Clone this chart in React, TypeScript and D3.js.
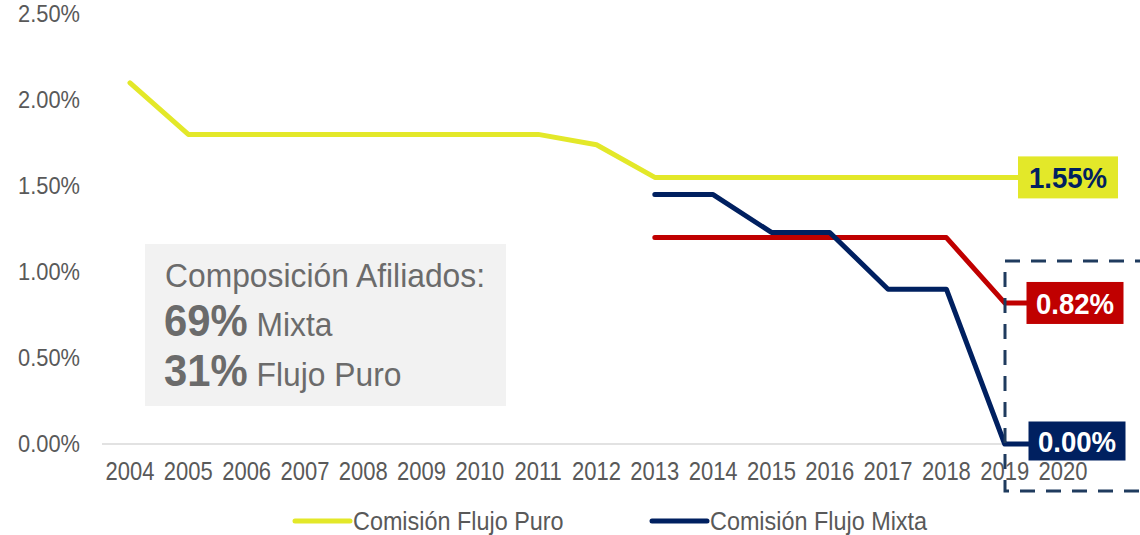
import * as d3 from 'd3';
import React from 'react';

const years = ['2004', '2005', '2006', '2007', '2008', '2009', '2010', '2011', '2012', '2013', '2014', '2015', '2016', '2017', '2018', '2019', '2020'];

// comisiones en % (null = sin dato)
const flujoPuro = [2.1, 1.8, 1.8, 1.8, 1.8, 1.8, 1.8, 1.8, 1.74, 1.55, 1.55, 1.55, 1.55, 1.55, 1.55, 1.55, 1.55];
const flujoMixta = [null, null, null, null, null, null, null, null, null, 1.45, 1.45, 1.23, 1.23, 0.9, 0.9, 0.0, 0.0];
const saldo = [null, null, null, null, null, null, null, null, null, 1.2, 1.2, 1.2, 1.2, 1.2, 1.2, 0.82, 0.82];

const yTicks = [0, 0.5, 1.0, 1.5, 2.0, 2.5];

const W = 1140;
const H = 535;
const FONT = "'Liberation Sans', Arial, sans-serif";
const GREY = '#595959';

const x = d3.scalePoint<string>().domain(years).range([130, 1063]);
const y = d3.scaleLinear().domain([0, 2.5]).range([444, 14]);

type Pt = { year: string; v: number | null };
const toPts = (vals: (number | null)[]): Pt[] => years.map((year, i) => ({ year, v: vals[i] }));

const line = d3
  .line<Pt>()
  .defined((d) => d.v !== null)
  .x((d) => x(d.year) as number)
  .y((d) => y(d.v as number));

const series = [
  { name: 'Comisión Flujo Puro', vals: flujoPuro, color: '#e3e829', text: '#002060', legend: true },
  { name: 'Comisión Saldo', vals: saldo, color: '#c00000', text: '#ffffff', legend: false },
  { name: 'Comisión Flujo Mixta', vals: flujoMixta, color: '#002060', text: '#ffffff', legend: true },
];

const fmt = (v: number) => v.toFixed(2) + '%';

// narrow-ish text like the original export
const T = (props: { x: number; y: number; sx: number; children: React.ReactNode; [k: string]: any }) => {
  const { x: tx, y: ty, sx, children, ...rest } = props;
  return (
    <text transform={`translate(${tx},${ty}) scale(${sx},1)`} {...rest}>
      {children}
    </text>
  );
};

const App: React.FC = () => {
  const last = years[years.length - 1];
  const lx = x(last) as number;
  const labelShift = [5, 12, 14];
  const labelLift = [0, 0, -3];

  return (
    <svg width={W} height={H} style={{ position: 'absolute', left: 0, top: 0, background: '#fff' }} fontFamily={FONT}>
      {/* gridline at 0 */}
      <line x1={102} x2={1105} y1={y(0)} y2={y(0)} stroke="#d9d9d9" strokeWidth={1.5} />

      {/* y ticks */}
      {yTicks.map((t) => (
        <T key={t} x={80} y={y(t)} sx={0.93} dy="0.36em" textAnchor="end" fontSize={23.5} fill={GREY}>
          {t.toFixed(2) + '%'}
        </T>
      ))}

      {/* x ticks */}
      {years.map((yr) => (
        <T key={yr} x={x(yr) as number} y={480} sx={0.88} textAnchor="middle" fontSize={25} fill={GREY}>
          {yr}
        </T>
      ))}

      {/* lines */}
      {series.map((s) => (
        <path
          key={s.name}
          d={line(toPts(s.vals)) || ''}
          fill="none"
          stroke={s.color}
          strokeWidth={5}
          strokeLinejoin="round"
          strokeLinecap="round"
        />
      ))}

      {/* dashed highlight */}
      <rect x={1005} y={261} width={160} height={230} fill="none" stroke="#1f3b5e" strokeWidth={3} strokeDasharray="15 11" />

      {/* data labels */}
      {series.map((s, i) => {
        const v = s.vals[s.vals.length - 1] as number;
        const cx = lx + labelShift[i];
        const cy = y(v) + labelLift[i];
        const w = i === 0 ? 100 : 97;
        const h = i === 2 ? 39 : 42;
        return (
          <g key={s.name + '-lbl'}>
            <rect x={cx - w / 2} y={cy - h / 2} width={w} height={h} fill={s.color} />
            <T x={cx} y={cy} sx={0.92} dy="0.36em" textAnchor="middle" fontSize={30} fontWeight="bold" fill={s.text}>
              {fmt(v)}
            </T>
          </g>
        );
      })}

      {/* composition box */}
      <rect x={145} y={244} width={361} height={162} fill="#f2f2f2" />
      <T x={165} y={287} sx={0.95} fontSize={33.5} fill="#6b6b6b">
        Composición Afiliados:
      </T>
      <T x={164} y={336} sx={0.95} fontSize={33.5} fill="#6b6b6b">
        <tspan fontWeight="bold" fontSize={44}>69%</tspan> Mixta
      </T>
      <T x={164} y={386} sx={0.95} fontSize={33.5} fill="#6b6b6b">
        <tspan fontWeight="bold" fontSize={44}>31%</tspan> Flujo Puro
      </T>

      {/* legend */}
      {series
        .filter((s) => s.legend)
        .map((s, i) => {
          const lx0 = i === 0 ? 295 : 652;
          return (
            <g key={s.name + '-leg'}>
              <line x1={lx0} x2={lx0 + 55} y1={521} y2={521} stroke={s.color} strokeWidth={5} strokeLinecap="round" />
              <T x={lx0 + 58} y={521} sx={0.9} dy="0.36em" fontSize={26} fill={GREY}>
                {s.name}
              </T>
            </g>
          );
        })}
    </svg>
  );
};

export default App;
